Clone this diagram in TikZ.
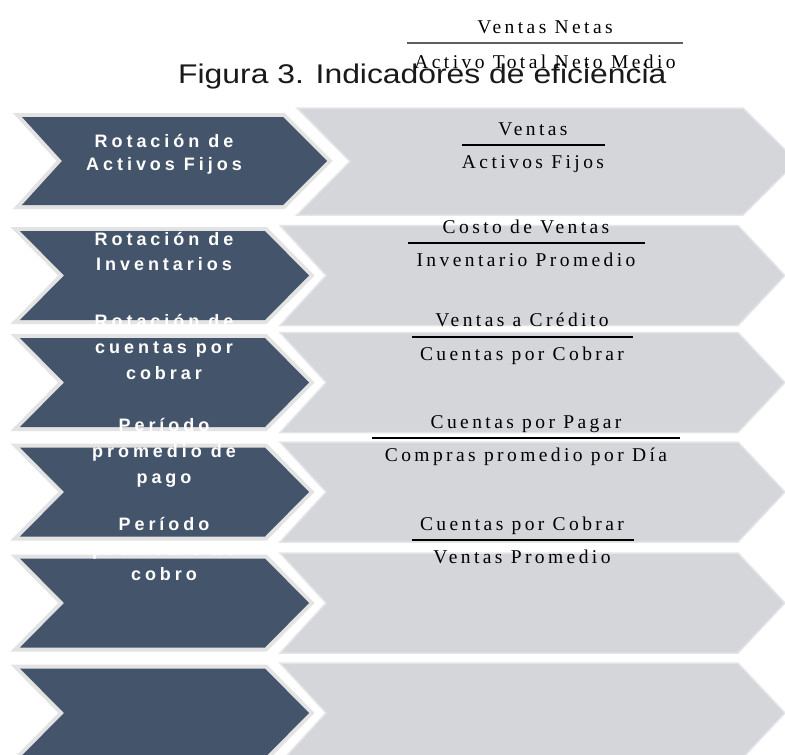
\documentclass[tikz,border=0pt]{standalone}
\usepackage{fontspec}
\setmainfont{Liberation Serif}
\newfontfamily\lblfont[LetterSpace=22]{Liberation Sans}
\newfontfamily\fracfont[LetterSpace=17.5]{Liberation Serif}
\newfontfamily\titlefont{Liberation Sans}
\definecolor{darkc}{HTML}{44546A}
\definecolor{lightc}{HTML}{D5D6DA}
\definecolor{edgec}{HTML}{E3E3E3}
\definecolor{lightedge}{HTML}{E4E5E8}
\definecolor{barc}{HTML}{5F5F5F}
\tikzset{
  darkchev/.style={preaction={draw=edgec,line width=8pt,line join=miter}, fill=darkc},
  lightchev/.style={fill=lightc, draw=lightedge, line width=1.5pt, line join=miter},
  lbl/.style={anchor=base, inner sep=0pt, text=white, font=\lblfont\bfseries\fontsize{18}{20}\selectfont},
  frac/.style={anchor=base, inner sep=0pt, text=black, font=\fracfont\fontsize{19.5}{22}\selectfont},
  fracbar/.style={draw=black, line width=1.1pt},
  topbar/.style={draw=barc, line width=2pt},
}
\begin{document}
\begin{tikzpicture}[x=1pt,y=-1pt]
\clip (0,0) rectangle (785,755);
\fill[white] (0,0) rectangle (785,755);
% row 1 (slightly larger)
\path[lightchev] (297,108) -- (743,108) -- (797,161.5) -- (743,215) -- (297,215) -- (350,161.5) -- cycle;
\path[darkchev] (22,117) -- (283,117) -- (327,161) -- (283,205) -- (22,205) -- (62,161) -- cycle;
% rows 2-6
\foreach \cy in {275.5,382.5,492,603,713} {
  \path[lightchev] (280,\cy-50) -- (738,\cy-50) -- (785,\cy) -- (738,\cy+50) -- (280,\cy+50) -- (326,\cy) -- cycle;
  \path[darkchev] (20,\cy-44.5) -- (265,\cy-44.5) -- (309,\cy) -- (265,\cy+44.5) -- (20,\cy+44.5) -- (64,\cy) -- cycle;
}
% title and top fraction
\node[anchor=base west, inner sep=0pt, font=\titlefont\fontsize{27}{30}\selectfont, text=black!90] (title) at (178,83) {\scalebox{1.18}[1]{Figura 3. Indicadores de eficiencia}};
\node[frac] (tn) at (545,33) {Ventas Netas};
\draw[topbar] (407,43) -- (683,43);
\node[frac] (td) at (545,68) {Activo Total Neto Medio};
% row labels
\node[lbl] (r1a) at (164,147) {Rotación de};
\node[lbl] (r1b) at (164,170) {Activos Fijos};
\node[lbl] (r2a) at (164,245) {Rotación de};
\node[lbl] (r2b) at (164,270) {Inventarios};
\node[lbl] (r3a) at (164,327) {Rotación de};
\node[lbl] (r3b) at (164,353) {cuentas por};
\node[lbl] (r3c) at (164,379) {cobrar};
\node[lbl] (r4a) at (164,431) {Período};
\node[lbl] (r4b) at (164,457) {promedio de};
\node[lbl] (r4c) at (164,483) {pago};
\node[lbl] (r5a) at (164,530) {Período};
\node[lbl] (r5b) at (164,555) {promedio de};
\node[lbl] (r5c) at (164,580) {cobro};
% fractions
\node[frac] (f1n) at (533,135) {Ventas};
\draw[fracbar] (462,145) -- (605,145);
\node[frac] (f1d) at (533,168) {Activos Fijos};
\node[frac] (f2n) at (526,233) {Costo de Ventas};
\draw[fracbar] (408,243) -- (645,243);
\node[frac] (f2d) at (526,266) {Inventario Promedio};
\node[frac] (f3n) at (522,326) {Ventas a Crédito};
\draw[fracbar] (412,337) -- (633,337);
\node[frac] (f3d) at (522,360) {Cuentas por Cobrar};
\node[frac] (f4n) at (526,428) {Cuentas por Pagar};
\draw[fracbar] (372,438) -- (680,438);
\node[frac] (f4d) at (526,461) {Compras promedio por Día};
\node[frac] (f5n) at (522,530) {Cuentas por Cobrar};
\draw[fracbar] (412,540) -- (634,540);
\node[frac] (f5d) at (522,563) {Ventas Promedio};
\end{tikzpicture}
\end{document}
